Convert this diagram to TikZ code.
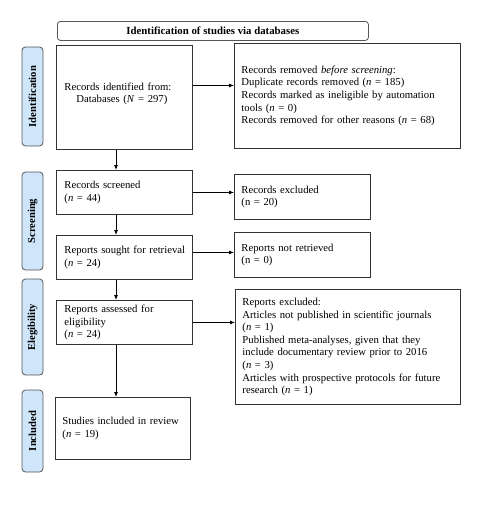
\documentclass[tikz,border=0pt]{standalone}
\usepackage{fontspec}
\setmainfont{Liberation Serif}
\usetikzlibrary{arrows.meta,calc}
\definecolor{boxline}{HTML}{333333}
\definecolor{sidefill}{HTML}{CFE6FA}
\definecolor{sideline}{HTML}{555555}
\tikzset{
  box/.style={draw=boxline, line width=0.9pt, anchor=north west, align=left,
    inner ysep=2pt, font=\fontsize{10.7}{12.6}\selectfont},
  hdr/.style={draw=sideline, line width=0.8pt, rounded corners=3pt, anchor=north west,
    minimum width=311pt, minimum height=19pt, inner sep=0pt,
    font=\bfseries\fontsize{10.8}{12}\selectfont},
  side/.style={draw=sideline, fill=sidefill, line width=0.8pt, rounded corners=3.5pt,
    rotate=90, minimum height=21pt, inner sep=0pt, font=\bfseries\fontsize{10.6}{12}\selectfont},
  arr/.style={draw=black, line width=0.8pt, -{Latex[length=5pt,width=4pt]}}
}
\begin{document}
\begin{tikzpicture}[x=1pt,y=-1pt]
\useasboundingbox (0,0) rectangle (496,506);
% header
\node[hdr] (hdr) at (57,21) {Identification of studies via databases};
% side labels
\node[side, minimum width=99pt] (sid) at (32.5,96.5) {Identification};
\node[side, minimum width=98pt] (ssc) at (32.5,221) {Screening};
\node[side, minimum width=96pt] (sel) at (32.5,327) {Elegibility};
\node[side, minimum width=82pt] (sin) at (32.5,431) {Included};
% left column
\node[box, inner xsep=8pt, text width=120pt, minimum height=104pt] (b1) at (56,45)
  {Records identified from:\\\hspace*{12pt}Databases (\textit{N} = 297)\\[-3pt]\mbox{}};
\node[box, inner xsep=8pt, text width=120pt, minimum height=44pt] (b2) at (56,170)
  {Records screened\\(\textit{n} = 44)};
\node[box, inner xsep=8pt, text width=120pt, minimum height=44pt] (b3) at (56,235)
  {\mbox{Reports sought for retrieval}\\(\textit{n} = 24)};
\node[box, inner xsep=8pt, text width=120pt, minimum height=44pt] (b4) at (56,300)
  {Reports assessed for\\eligibility\\(\textit{n} = 24)};
\node[box, inner xsep=7pt, text width=121pt, minimum height=62pt] (b5) at (55,397)
  {Studies included in review\\(\textit{n} = 19)};
% right column
\node[box, inner xsep=7pt, text width=212pt, minimum height=105pt] (r1) at (234,43)
  {Records removed \textit{before screening}:\\Duplicate records removed (\textit{n} = 185)\\Records marked as ineligible by automation\\tools (\textit{n} = 0)\\Records removed for other reasons (\textit{n} = 68)};
\node[box, inner xsep=7pt, text width=122pt, minimum height=45pt] (r2) at (234,174)
  {Records excluded\\(n = 20)};
\node[box, inner xsep=7pt, text width=122pt, minimum height=45pt] (r3) at (234,232)
  {Reports not retrieved\\(n = 0)};
\node[box, inner xsep=7pt, text width=211pt, minimum height=115pt] (r4) at (235,289)
  {Reports excluded:\\Articles not published in scientific journals\\(\textit{n} = 1)\\Published meta-analyses, given that they\\include documentary review prior to 2016\\(\textit{n} = 3)\\Articles with prospective protocols for future\\research (\textit{n} = 1)};
% horizontal arrows
\draw[arr] ([yshift=12pt]b1.east) -- ([yshift=12pt]b1.east -| r1.west);
\draw[arr] (b2.east) -- (b2.east -| r2.west);
\draw[arr] ([yshift=5pt]b3.east) -- ([yshift=5pt]b3.east -| r3.west);
\draw[arr] (b4.east) -- (b4.east -| r4.west);
% vertical arrows
\coordinate (vx) at (116,0);
\draw[arr] (b1.south -| vx) -- (b2.north -| vx);
\draw[arr] (b2.south -| vx) -- (b3.north -| vx);
\draw[arr] (b3.south -| vx) -- (b4.north -| vx);
\draw[arr] (b4.south -| vx) -- (b5.north -| vx);
\end{tikzpicture}
\end{document}
